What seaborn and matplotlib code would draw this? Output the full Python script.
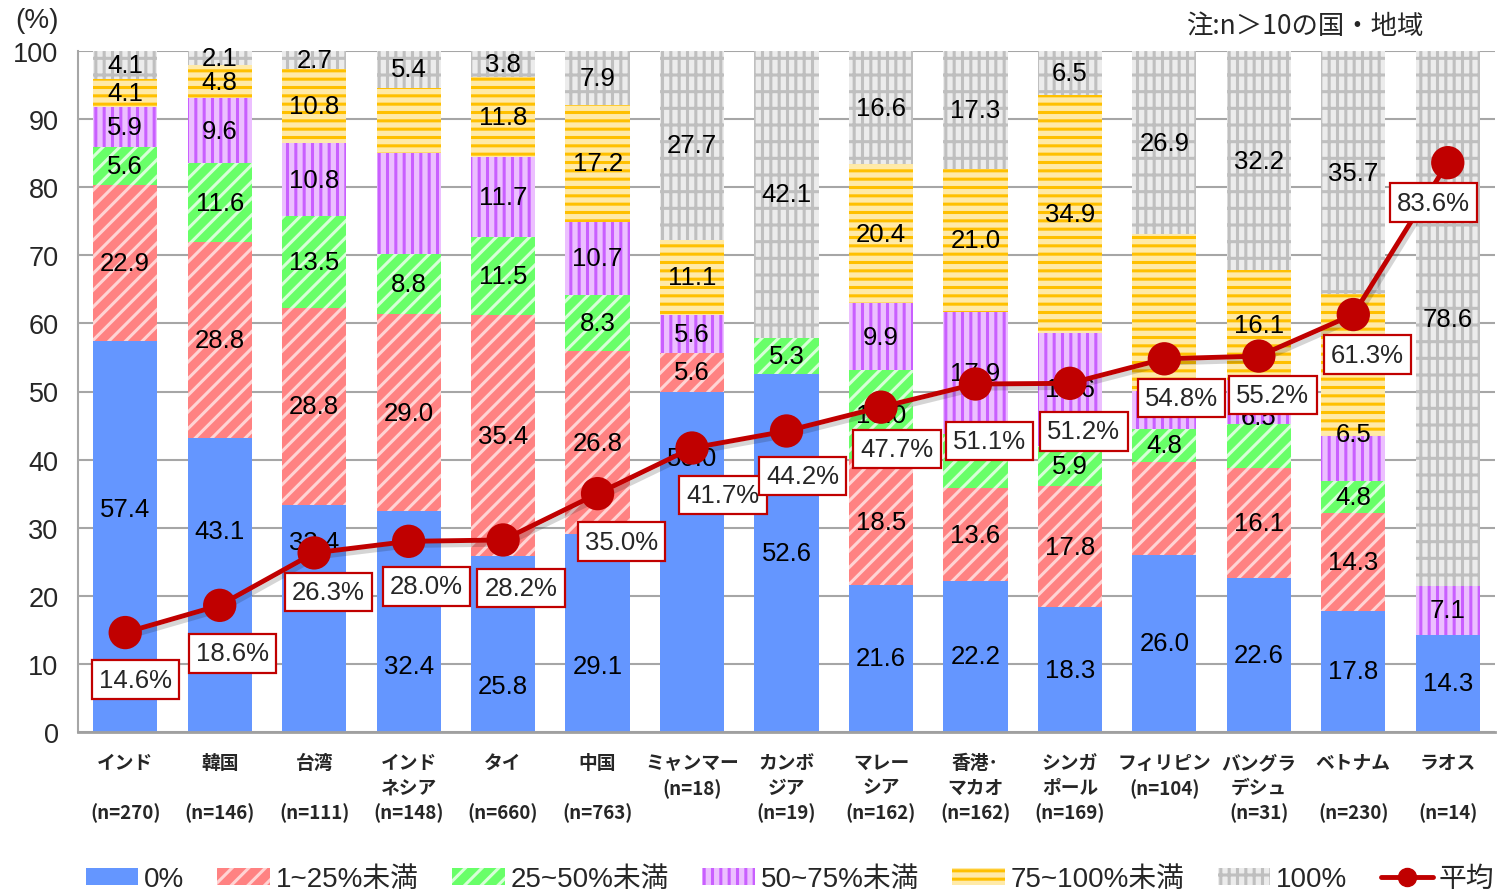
import numpy as np
import matplotlib
matplotlib.use("Agg")
import matplotlib.pyplot as plt
import matplotlib.patheffects as pe
from matplotlib.patches import Patch
from matplotlib.lines import Line2D
import seaborn as sns

# ---- data -------------------------------------------------------------
regions = ["インド", "韓国", "台湾", "インドネシア", "タイ", "中国", "ミャンマー",
           "カンボジア", "マレーシア", "香港・マカオ", "シンガポール", "フィリピン",
           "バングラデシュ", "ベトナム", "ラオス"]
tick_labels = ["インド\n\n(n=270)", "韓国\n\n(n=146)", "台湾\n\n(n=111)",
               "インド\nネシア\n(n=148)", "タイ\n\n(n=660)", "中国\n\n(n=763)",
               "ミャンマー\n(n=18)", "カンボ\nジア\n(n=19)", "マレー\nシア\n(n=162)",
               "香港･\nマカオ\n(n=162)", "シンガ\nポール\n(n=169)", "フィリピン\n(n=104)",
               "バングラ\nデシュ\n(n=31)", "ベトナム\n\n(n=230)", "ラオス\n\n(n=14)"]

share_0 = [57.4, 43.1, 33.4, 32.4, 25.8, 29.1, 50.0, 52.6, 21.6, 22.2, 18.3, 26.0, 22.6, 17.8, 14.3]
share_1_25 = [22.9, 28.8, 28.8, 29.0, 35.4, 26.8, 5.6, 0.0, 18.5, 13.6, 17.8, 13.7, 16.1, 14.3, 0.0]
share_25_50 = [5.6, 11.6, 13.5, 8.8, 11.5, 8.3, 0.0, 5.3, 13.0, 8.0, 5.9, 4.8, 6.5, 4.8, 0.0]
share_50_75 = [5.9, 9.6, 10.8, 14.8, 11.7, 10.7, 5.6, 0.0, 9.9, 17.9, 16.6, 5.6, 6.5, 6.5, 7.1]
share_75_100 = [4.1, 4.8, 10.8, 9.6, 11.8, 17.2, 11.1, 0.0, 20.4, 21.0, 34.9, 23.0, 16.1, 20.9, 0.0]
share_100 = [4.1, 2.1, 2.7, 5.4, 3.8, 7.9, 27.7, 42.1, 16.6, 17.3, 6.5, 26.9, 32.2, 35.7, 78.6]
average = [14.6, 18.6, 26.3, 28.0, 28.2, 35.0, 41.7, 44.2, 47.7, 51.1, 51.2, 54.8, 55.2, 61.3, 83.6]

series_names = ["0%", "1~25%未満", "25~50%未満", "50~75%未満", "75~100%未満", "100%"]
series_values = [share_0, share_1_25, share_25_50, share_50_75, share_75_100, share_100]

# ---- styling ----------------------------------------------------------
# (face colour, hatch, hatch colour) per series
series_styles = [
    ("#6496ff", None, "none"),
    ("#ff8282", "//", "#ffd4d4"),
    ("#68ff68", "//", "#d8ffd8"),
    ("#ecbfff", "||", "#c95fff"),
    ("#ffeaa8", "--", "#ffc000"),
    ("#ececec", "+|", "#bfbfbf"),
]
line_color = "#c00000"

# segments whose value text is not shown
unlabeled = {(3, 3), (4, 3), (2, 9), (1, 11), (3, 11), (4, 11), (2, 12)}
# value-label heights moved off the segment centre
label_y = {(0, 0): 32.7, (0, 1): 29.5, (0, 2): 27.9, (0, 3): 9.7, (0, 4): 6.8,
           (0, 5): 9.7, (0, 6): 40.2, (3, 13): 43.8, (3, 12): 46.3}
# offsets (pixels, right / down) of the average call-out boxes
box_offsets = [(10, 47), (13, 48), (14, 39), (18, 45), (18, 48), (24, 48), (31, 47),
               (16, 45), (16, 42), (14, 57), (14, 48), (17, 39), (14, 39), (14, 40), (-14, 40)]

sns.set_theme(style="white")
plt.rcParams["font.family"] = ["Liberation Sans", "Noto Sans CJK JP"]
plt.rcParams["hatch.linewidth"] = 2.2

W, H = 1497, 895
fig, ax = plt.subplots(figsize=(W / 100, H / 100), dpi=100)
fig.subplots_adjust(left=78 / W, right=1495 / W, bottom=1 - 733 / H, top=1 - 52 / H)

n = len(regions)
bottom = np.zeros(n)
for k, (vals, (face, hatch, hcol)) in enumerate(zip(series_values, series_styles)):
    sns.barplot(x=regions, y=vals, order=regions, color=face, saturation=1,
                width=0.68, bottom=bottom, hatch=hatch, edgecolor=hcol,
                linewidth=0, errorbar=None, ax=ax, zorder=2)
    for i, v in enumerate(vals):
        if v <= 0 or (k, i) in unlabeled:
            continue
        y = label_y.get((k, i), bottom[i] + v / 2)
        ax.text(i, y, f"{v:.1f}", ha="center", va="center", fontsize=18.5,
                color="black", zorder=3)
    bottom = bottom + np.array(vals)

# average line with call-out boxes
sns.lineplot(x=np.arange(n), y=average, ax=ax, color=line_color, lw=3.5,
             marker="o", markersize=24, markeredgewidth=0, zorder=4, legend=False,
             path_effects=[pe.SimpleLineShadow(offset=(2, -3), alpha=0.18), pe.Normal()])
for i, (v, (dx, dy)) in enumerate(zip(average, box_offsets)):
    ax.annotate(f"{v:.1f}%", xy=(i, v), xytext=(dx, -dy), textcoords="offset pixels",
                ha="center", va="center", fontsize=18.5, zorder=5,
                bbox=dict(boxstyle="square,pad=0.28", fc="white", ec=line_color, lw=1.6))

# axes
ax.set_xlim(-0.5, n - 0.5)
ax.set_ylim(0, 100)
ax.set_yticks(range(0, 101, 10))
ax.set_xlabel("")
ax.set_ylabel("")
ax.set_axisbelow(True)
ax.yaxis.grid(True, color="#a6a6a6", lw=1.5)
ax.xaxis.grid(False)
for s in ("top", "right"):
    ax.spines[s].set_visible(False)
ax.spines["left"].set_color("#a6a6a6")
ax.spines["left"].set_linewidth(1.5)
ax.spines["bottom"].set_color("#a0a0a0")
ax.spines["bottom"].set_linewidth(2)
ax.tick_params(axis="y", length=0, pad=14, labelsize=19.5)
ax.tick_params(axis="x", length=0, pad=15)
ax.set_xticks(range(n))
ax.set_xticklabels(tick_labels, fontsize=13.5, fontweight="bold",
                   family=["Noto Sans CJK JP"], linespacing=1.38, va="top")

fig.text(37 / W, 1 - 21 / H, "(%)", ha="center", va="center", fontsize=20)
fig.text(1423 / W, 1 - 26 / H, "注:n＞10の国・地域", ha="right", va="center",
         fontsize=19, family=["Noto Sans CJK JP"])

handles = [Patch(facecolor=f, edgecolor=hc, hatch=h, lw=0) for f, h, hc in series_styles]
handles.append(Line2D([0], [0], color=line_color, lw=3.5, marker="o", markersize=13))
labels = series_names + ["平均"]
fig.legend(handles, labels, loc="center", bbox_to_anchor=(790 / W, 1 - 880 / H),
           ncol=7, frameon=False, fontsize=20, handlelength=1.9, handleheight=0.55,
           handletextpad=0.2, columnspacing=1.2, borderaxespad=0, borderpad=0)

fig.savefig("out.png", dpi=100)
